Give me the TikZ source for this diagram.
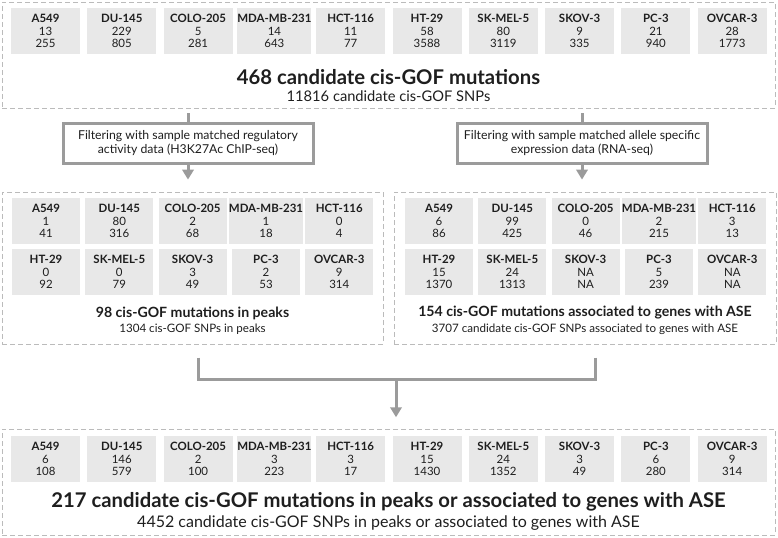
\documentclass[tikz,border=0pt]{standalone}
\usepackage{fontspec}
\setmainfont{Lato}
\usetikzlibrary{arrows.meta,positioning}
\definecolor{Ink}{HTML}{1E1E1E}
\definecolor{CellGray}{HTML}{E8E8E8}
\definecolor{LineGray}{HTML}{9B9B9B}
\definecolor{DashGray}{HTML}{BBBBBB}
\tikzset{
  panel/.style={draw=DashGray,line width=.6pt,dash pattern=on 3.5pt off 2.5pt,inner sep=0pt},
  cell/.style={fill=CellGray,text=Ink,align=center,inner sep=0pt,minimum height=34.5pt,font=\fontsize{8.6}{9.4}\selectfont},
  widecell/.style={cell,minimum width=51.75pt},
  halfcell/.style={cell,minimum width=51pt},
  filterbox/.style={draw=LineGray,line width=2.25pt,fill=white,align=center,text=Ink,font=\fontsize{9.2}{10.5}\selectfont,minimum width=187.5pt,minimum height=30pt},
  bighead/.style={text=Ink,font=\bfseries\fontsize{15.2}{17}\selectfont},
  topsub/.style={text=Ink,font=\fontsize{11}{12}\selectfont},
  botsub/.style={text=Ink,font=\fontsize{12}{14}\selectfont},
  midhead/.style={text=Ink,font=\bfseries\fontsize{10.6}{12}\selectfont},
  midsub/.style={text=Ink,font=\fontsize{8.7}{10}\selectfont},
  link/.style={draw=LineGray,line width=2.25pt},
  linkarrow/.style={link,-{Triangle[length=7.5pt,width=8.5pt]}}
}

\begin{document}
\begin{tikzpicture}[x=0.75pt,y=-0.75pt]
  \useasboundingbox (0,0) rectangle (778,537);
  % dashed panels
  \node[panel,minimum width=579.75pt,minimum height=79.5pt] (top) at (388.5,55) {};
  \node[panel,minimum width=285.75pt,minimum height=114pt] (midL) at (192.5,268) {};
  \node[panel,minimum width=286.5pt,minimum height=114pt] (midR) at (585,268) {};
  \node[panel,minimum width=579.75pt,minimum height=79.5pt] (bot) at (388.5,482) {};
  % all candidates
  \node[widecell] (t1) at (45.5,31) {\textbf{A549}\\13\\255};
  \node[widecell] (t2) at (121.8,31) {\textbf{DU-145}\\229\\805};
  \node[widecell] (t3) at (198.1,31) {\textbf{COLO-205}\\5\\281};
  \node[widecell] (t4) at (274.4,31) {\textbf{MDA-MB-231}\\14\\643};
  \node[widecell] (t5) at (350.7,31) {\textbf{HCT-116}\\11\\77};
  \node[widecell] (t6) at (427,31) {\textbf{HT-29}\\58\\3588};
  \node[widecell] (t7) at (503.3,31) {\textbf{SK-MEL-5}\\80\\3119};
  \node[widecell] (t8) at (579.6,31) {\textbf{SKOV-3}\\9\\335};
  \node[widecell] (t9) at (655.9,31) {\textbf{PC-3}\\21\\940};
  \node[widecell] (t10) at (732.2,31) {\textbf{OVCAR-3}\\28\\1773};
  \node[bighead] (topHead) at (388.5,77) {468 candidate cis-GOF mutations};
  \node[topsub] (topSub) at (388.5,96) {11816 candidate cis-GOF SNPs};
  % filters
  \node[filterbox] (fltL) at (188,143) {Filtering with sample matched regulatory\\activity data (H3K27Ac ChIP-seq)};
  \node[filterbox] (fltR) at (582,143) {Filtering with sample matched allele specific\\expression data (RNA-seq)};
  \draw[link,shorten <=3.5pt] (top.south -| fltL.north) -- (fltL.north);
  \draw[link,shorten <=3.5pt] (top.south -| fltR.north) -- (fltR.north);
  \draw[linkarrow,shorten >=9pt] (fltL.south) -- (fltL.south |- midL.north);
  \draw[linkarrow,shorten >=9pt] (fltR.south) -- (fltR.south |- midR.north);
  % in peaks
  \node[halfcell] (l1) at (46,221) {\textbf{A549}\\1\\41};
  \node[halfcell] (l2) at (119.3,221) {\textbf{DU-145}\\80\\316};
  \node[halfcell] (l3) at (192.6,221) {\textbf{COLO-205}\\2\\68};
  \node[halfcell] (l4) at (266,221) {\textbf{MDA-MB-231}\\1\\18};
  \node[halfcell] (l5) at (339.3,221) {\textbf{HCT-116}\\0\\4};
  \node[halfcell] (l6) at (46,272) {\textbf{HT-29}\\0\\92};
  \node[halfcell] (l7) at (119.3,272) {\textbf{SK-MEL-5}\\0\\79};
  \node[halfcell] (l8) at (192.6,272) {\textbf{SKOV-3}\\3\\49};
  \node[halfcell] (l9) at (266,272) {\textbf{PC-3}\\2\\53};
  \node[halfcell] (l10) at (339.3,272) {\textbf{OVCAR-3}\\9\\314};
  \node[midhead] (midLHead) at (192.5,313) {98 cis-GOF mutations in peaks};
  \node[midsub] (midLSub) at (192.5,329) {1304 cis-GOF SNPs in peaks};
  % with ASE
  \node[halfcell] (r1) at (439,221) {\textbf{A549}\\6\\86};
  \node[halfcell] (r2) at (512.3,221) {\textbf{DU-145}\\99\\425};
  \node[halfcell] (r3) at (585.6,221) {\textbf{COLO-205}\\0\\46};
  \node[halfcell] (r4) at (659,221) {\textbf{MDA-MB-231}\\2\\215};
  \node[halfcell] (r5) at (732.3,221) {\textbf{HCT-116}\\3\\13};
  \node[halfcell] (r6) at (439,272) {\textbf{HT-29}\\15\\1370};
  \node[halfcell] (r7) at (512.3,272) {\textbf{SK-MEL-5}\\24\\1313};
  \node[halfcell] (r8) at (585.6,272) {\textbf{SKOV-3}\\NA\\NA};
  \node[halfcell] (r9) at (659,272) {\textbf{PC-3}\\5\\239};
  \node[halfcell] (r10) at (732.3,272) {\textbf{OVCAR-3}\\NA\\NA};
  \node[midhead] (midRHead) at (585,313) {154 cis-GOF mutations associated to genes with ASE};
  \node[midsub] (midRSub) at (585,329) {3707 candidate cis-GOF SNPs associated to genes with ASE};
  % merge
  \coordinate (join) at (396,379);
  \draw[link,shorten <=10pt] ([xshift=4.5pt]midL.south) |- (join);
  \draw[link,shorten <=10pt] ([xshift=7.5pt]midR.south) |- (join);
  \draw[linkarrow,shorten >=8.5pt] (join) -- (join |- bot.north);
  % union
  \node[widecell] (b1) at (45.5,459) {\textbf{A549}\\6\\108};
  \node[widecell] (b2) at (121.8,459) {\textbf{DU-145}\\146\\579};
  \node[widecell] (b3) at (198.1,459) {\textbf{COLO-205}\\2\\100};
  \node[widecell] (b4) at (274.4,459) {\textbf{MDA-MB-231}\\3\\223};
  \node[widecell] (b5) at (350.7,459) {\textbf{HCT-116}\\3\\17};
  \node[widecell] (b6) at (427,459) {\textbf{HT-29}\\15\\1430};
  \node[widecell] (b7) at (503.3,459) {\textbf{SK-MEL-5}\\24\\1352};
  \node[widecell] (b8) at (579.6,459) {\textbf{SKOV-3}\\3\\49};
  \node[widecell] (b9) at (655.9,459) {\textbf{PC-3}\\6\\280};
  \node[widecell] (b10) at (732.2,459) {\textbf{OVCAR-3}\\9\\314};
  \node[bighead] (botHead) at (388.5,502) {217 candidate cis-GOF mutations in peaks or associated to genes with ASE};
  \node[botsub] (botSub) at (388.5,523) {4452 candidate cis-GOF SNPs in peaks or associated to genes with ASE};
\end{tikzpicture}
\end{document}
